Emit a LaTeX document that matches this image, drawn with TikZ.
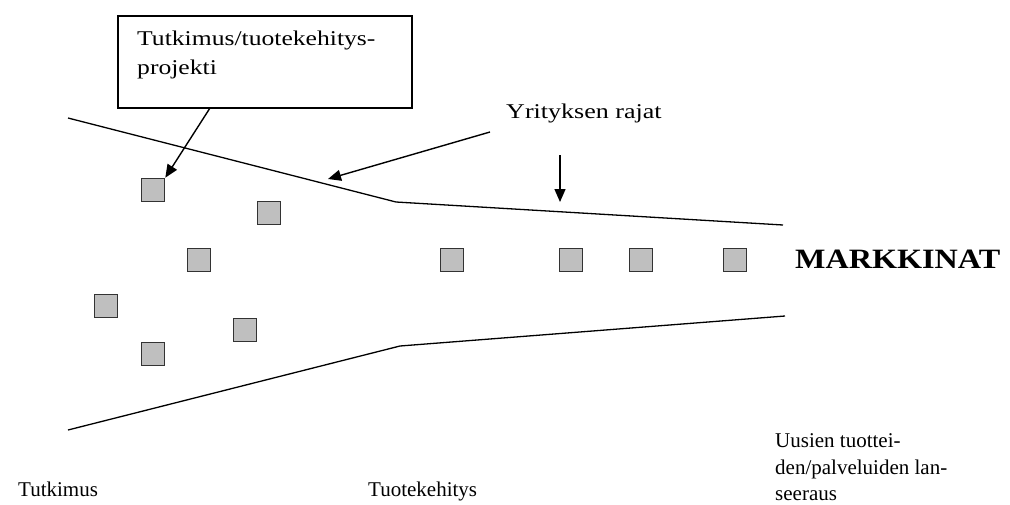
\documentclass[tikz,border=0pt]{standalone}
\usepackage{fontspec}
\setmainfont{Liberation Serif}
\usetikzlibrary{arrows.meta}

\begin{document}
\begin{tikzpicture}[x=1pt,y=-1pt,
  boundary/.style={line width=1.3pt,black},
  pointer/.style={line width=1.4pt,black,-{Triangle[length=13pt,width=11pt]}},
  proj/.style={draw=black!80,line width=1.6pt,fill=black!25,minimum size=23pt,inner sep=0pt},
  lbl/.style={inner sep=0pt,font=\fontsize{21}{26}\selectfont,align=left},
  callout/.style={draw=black,line width=1.4pt}]
\useasboundingbox[fill=white] (0,0) rectangle (1010,504);

% project label box
\draw[callout] (118,16) rectangle (412,108);
\node[lbl,anchor=base west] (boxtxt1) at (137,45) {\scalebox{1.22}[1]{Tutkimus/tuotekehitys-}};
\node[lbl,anchor=base west] (boxtxt2) at (137,74) {\scalebox{1.22}[1]{projekti}};
\coordinate (boxfoot) at (210,108);

% company boundary lines
\coordinate (tl) at (68,118);
\coordinate (tm) at (396,202);
\coordinate (tr) at (783,225);
\coordinate (bl) at (68,430);
\coordinate (bm) at (400,346);
\coordinate (br) at (785,316);
\draw[boundary] (tl) -- (tm) -- (tr);
\draw[boundary] (bl) -- (bm) -- (br);

% projects
\node[proj] (p1) at (153,190) {};
\node[proj] (p2) at (269,213) {};
\node[proj] (p3) at (199,260) {};
\node[proj] (p4) at (106,306) {};
\node[proj] (p5) at (245,330) {};
\node[proj] (p6) at (153,354) {};
\node[proj] (p7) at (452,260) {};
\node[proj] (p8) at (571,260) {};
\node[proj] (p9) at (641,260) {};
\node[proj] (p10) at (735,260) {};

% labels
\node[lbl,anchor=base west] (yr) at (506,118) {\scalebox{1.24}[1]{Yrityksen rajat}};
\node[lbl,anchor=base west,font=\fontsize{28}{32}\selectfont\bfseries] (mk) at (795,268) {\scalebox{1.15}[1]{MARKKINAT}};
\node[lbl,anchor=base west] (tk) at (18,496) {Tutkimus};
\node[lbl,anchor=base west] (tke) at (368,496) {Tuotekehitys};
\node[lbl,anchor=base west] (la1) at (775,447) {Uusien tuottei-};
\node[lbl,anchor=base west] (la2) at (775,474) {den/palveluiden lan-};
\node[lbl,anchor=base west] (la3) at (775,500) {seeraus};

% pointers
\coordinate (yrA) at (490,132);
\coordinate (yrAtip) at (328,179);
\coordinate (yrB) at (560,155);
\coordinate (yrBtip) at (560,202);
\draw[pointer] (boxfoot) -- (p1.north east);
\draw[pointer] (yrA) -- (yrAtip);
\draw[pointer] (yrB) -- (yrBtip);
\end{tikzpicture}
\end{document}
